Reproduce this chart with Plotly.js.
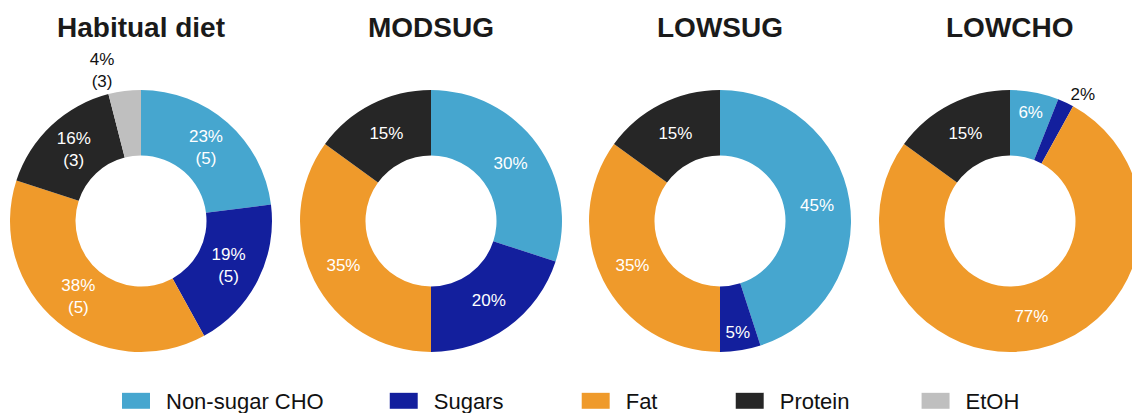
<!DOCTYPE html>
<html>
<head>
<meta charset="utf-8">
<script src="https://cdn.plot.ly/plotly-3.0.1.min.js"></script>
<style>
html, body { margin: 0; padding: 0; overflow: hidden; background: #fff; width: 1132px; height: 413px; }
#chart { width: 1145px; height: 413px; }
.legendpie { transform: translate(20px, 0px) scale(2.33, 1.33) !important; }
</style>
</head>
<body>
<div id="chart"></div>
<script>
// ---- data ----
const categories = ['Non-sugar CHO', 'Sugars', 'Fat', 'Protein', 'EtOH'];
const colors = ['#46A6CF', '#131F9D', '#EF9A2B', '#262626', '#BFBFBF'];
const titles = ['Habitual diet', 'MODSUG', 'LOWSUG', 'LOWCHO'];
const habitual = [23, 19, 38, 16, 4];
const habitualN = [5, 5, 5, 3, 3];
const modsug = [30, 20, 35, 15];
const lowsug = [45, 5, 35, 15];
const lowcho = [6, 2, 77, 15];

// ---- layout helpers ----
const W = 1145, H = 413;
const centersX = [141, 431, 720, 1010];
const cy = 221, R = 131;
const pad = [9, 11, 11, 10, 0]; // legend spacing padding (nbsp)
const legendLabels = categories.map((c, i) => c + '\u00a0'.repeat(pad[i]));

function dom(i) {
  return {
    x: [(centersX[i] - R) / W, (centersX[i] + R) / W],
    y: [(H - cy - R) / H, (H - cy + R) / H]
  };
}

const series = [habitual, modsug, lowsug, lowcho];
const outsideIdx = [[4], [], [], [1]];

const traces = series.map((vals, i) => {
  const n = vals.length;
  const text = vals.map((v, k) => i === 0 ? `${v}%<br>(${habitualN[k]})` : `${v}%`);
  const pos = vals.map((v, k) => outsideIdx[i].includes(k) ? 'outside' : 'inside');
  return {
    type: 'pie',
    labels: legendLabels.slice(0, n),
    values: vals,
    text: text,
    textinfo: 'text',
    textposition: pos,
    insidetextorientation: 'horizontal',
    insidetextfont: { color: '#ffffff', size: 17, family: 'Liberation Sans, Arial, sans-serif' },
    outsidetextfont: { color: '#111111', size: 17, family: 'Liberation Sans, Arial, sans-serif' },
    marker: { colors: colors.slice(0, n), line: { width: 0 } },
    hole: 0.5,
    sort: false,
    direction: 'clockwise',
    rotation: 0,
    domain: dom(i),
    hoverinfo: 'label+percent',
    showlegend: true
  };
});

const annotations = titles.map((t, i) => ({
  text: '<b>' + t + '</b>',
  x: centersX[i] / W,
  y: (H - 27) / H,
  xref: 'paper', yref: 'paper',
  xanchor: 'center', yanchor: 'middle',
  showarrow: false,
  font: { size: 28, color: '#1a1a1a', family: 'Liberation Sans, Arial, sans-serif' }
}));

const layout = {
  width: W, height: H,
  margin: { l: 0, r: 0, t: 0, b: 0, autoexpand: false },
  paper_bgcolor: '#ffffff',
  showlegend: true,
  legend: {
    orientation: 'h',
    x: 116 / W, xanchor: 'left',
    y: (H - 401) / H, yanchor: 'middle',
    itemwidth: 40,
    font: { size: 22, color: '#111111', family: 'Liberation Sans, Arial, sans-serif' },
    traceorder: 'normal'
  },
  annotations: annotations
};

Plotly.newPlot('chart', traces, layout, { displayModeBar: false, staticPlot: true });
</script>
</body>
</html>
